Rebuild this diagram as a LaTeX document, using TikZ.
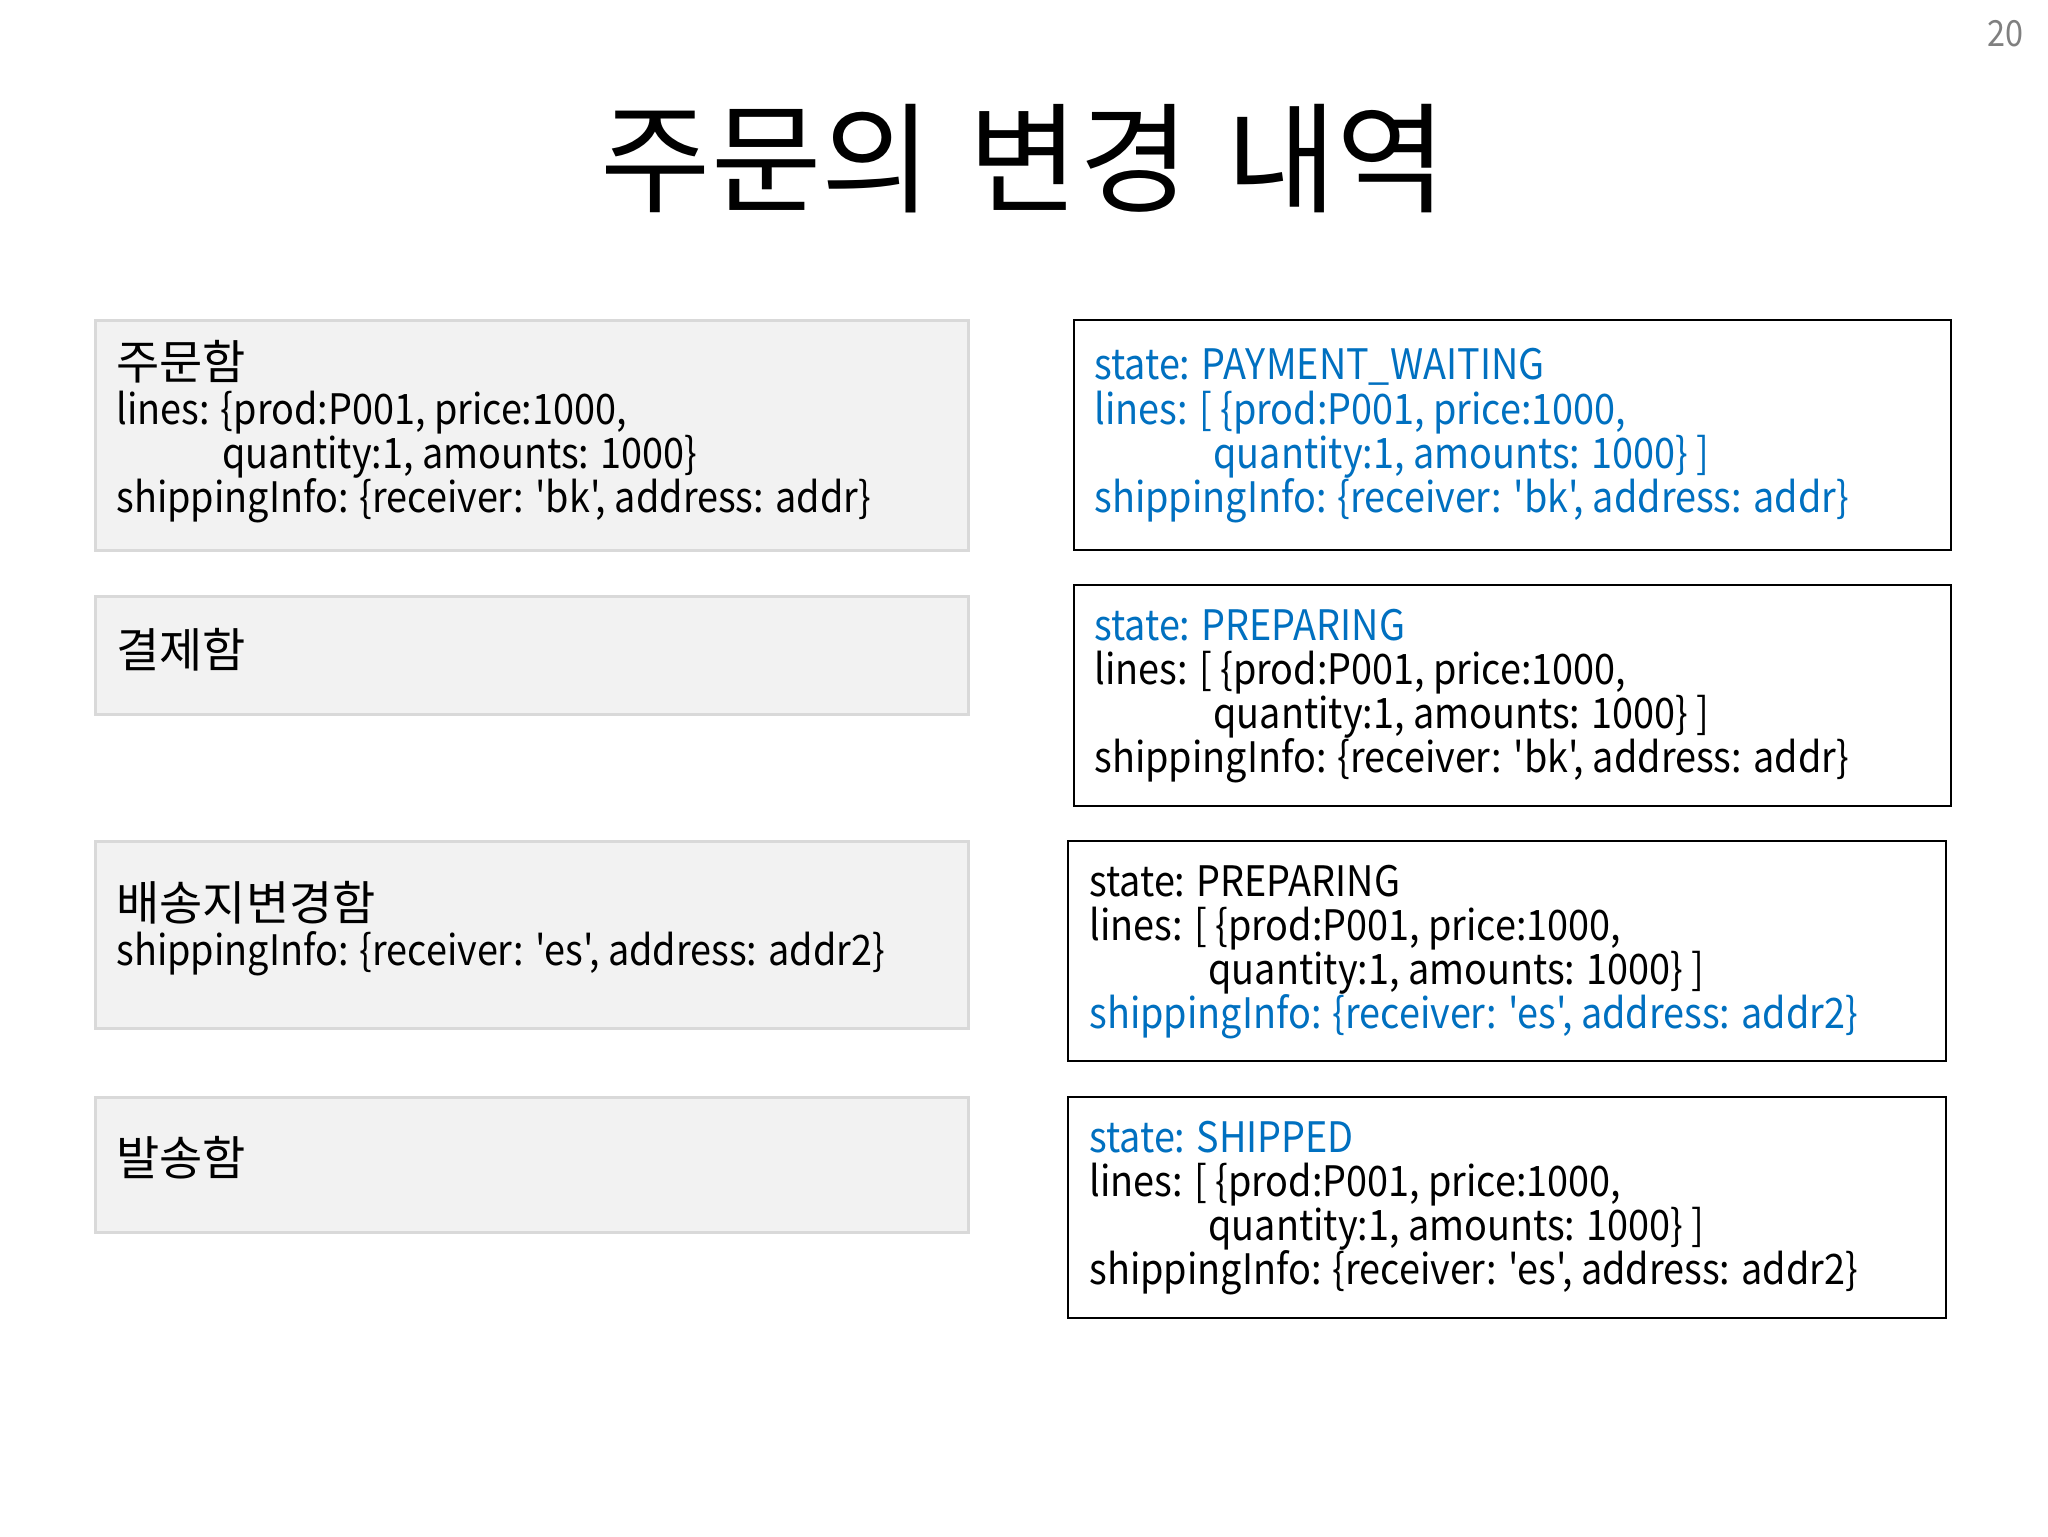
\documentclass[tikz,border=0pt]{standalone}
\usepackage{fontspec}
\setmainfont{Noto Sans CJK KR}
\newfontfamily\kr{Noto Sans CJK KR}
\newfontfamily\lat[FakeStretch=0.9]{Noto Sans CJK KR}
\usetikzlibrary{fit}
\definecolor{ablue}{HTML}{0070C0}
\definecolor{gfill}{HTML}{F2F2F2}
\definecolor{gline}{HTML}{D9D9D9}
\definecolor{pnum}{HTML}{808080}
\begin{document}
\begin{tikzpicture}[x=0.5pt,y=-0.5pt,
  gbox/.style={draw=gline, line width=1.5pt, fill=gfill, inner sep=0pt},
  wbox/.style={draw=black, line width=1.1pt, fill=white, inner sep=0pt},
  txt/.style={anchor=base west, inner sep=0pt, font=\lat\fontsize{21}{22}\selectfont},
  ktxt/.style={anchor=base west, inner sep=0pt, font=\kr\fontsize{23.5}{24}\selectfont},
  blu/.style={text=ablue}]
\useasboundingbox (0,0) rectangle (2048,1536);
\fill[white] (0,0) rectangle (2048,1536);

% page number and title
\node[anchor=base east, inner sep=0pt, text=pnum, font=\lat\fontsize{18}{20}\selectfont] (pg) at (2024,47) {20};
\node[anchor=base, inner sep=0pt, font=\kr\fontsize{60}{64}\selectfont] (title) at (1024,203) {주문의\hspace{5pt} 변경\hspace{5pt} 내역};

% left boxes
\node[gbox, fit={(95,320) (968,550)}] (L1) {};
\node[gbox, fit={(95,596) (968,714)}] (L2) {};
\node[gbox, fit={(95,841) (968,1028)}] (L3) {};
\node[gbox, fit={(95,1097) (968,1232)}] (L4) {};

% right boxes
\node[wbox, fit={(1074,320) (1951,550)}] (R1) {};
\node[wbox, fit={(1074,585) (1951,806)}] (R2) {};
\node[wbox, fit={(1068,841) (1946,1061)}] (R3) {};
\node[wbox, fit={(1068,1097) (1946,1318)}] (R4) {};

% L1 text
\node[ktxt] (l1a) at (116,379) {주문함};
\node[txt] (l1b) at (116,424) {lines: \{prod:P001, price:1000,};
\node[txt] (l1c) at (222,468) {quantity:1, amounts: 1000\}};
\node[txt] (l1d) at (116,512) {shippingInfo: \{receiver: 'bk', address: addr\}};

% L2 text
\node[ktxt] (l2a) at (116,667) {결제함};

% L3 text
\node[ktxt] (l3a) at (116,920) {배송지변경함};
\node[txt] (l3b) at (116,965) {shippingInfo: \{receiver: 'es', address: addr2\}};

% L4 text
\node[ktxt] (l4a) at (116,1175) {발송함};

% R1 text
\node[txt, blu] (r1a) at (1094,379) {state: PAYMENT\_WAITING};
\node[txt, blu] (r1b) at (1094,424) {lines: [ \{prod:P001, price:1000,};
\node[txt, blu] (r1c) at (1213,468) {quantity:1, amounts: 1000\} ]};
\node[txt, blu] (r1d) at (1094,512) {shippingInfo: \{receiver: 'bk', address: addr\}};

% R2 text
\node[txt, blu] (r2a) at (1094,640) {state: PREPARING};
\node[txt] (r2b) at (1094,684) {lines: [ \{prod:P001, price:1000,};
\node[txt] (r2c) at (1213,728) {quantity:1, amounts: 1000\} ]};
\node[txt] (r2d) at (1094,772) {shippingInfo: \{receiver: 'bk', address: addr\}};

% R3 text
\node[txt] (r3a) at (1089,896) {state: PREPARING};
\node[txt] (r3b) at (1089,940) {lines: [ \{prod:P001, price:1000,};
\node[txt] (r3c) at (1208,984) {quantity:1, amounts: 1000\} ]};
\node[txt, blu] (r3d) at (1089,1028) {shippingInfo: \{receiver: 'es', address: addr2\}};

% R4 text
\node[txt, blu] (r4a) at (1089,1152) {state: SHIPPED};
\node[txt] (r4b) at (1089,1196) {lines: [ \{prod:P001, price:1000,};
\node[txt] (r4c) at (1208,1240) {quantity:1, amounts: 1000\} ]};
\node[txt] (r4d) at (1089,1284) {shippingInfo: \{receiver: 'es', address: addr2\}};
\end{tikzpicture}
\end{document}
